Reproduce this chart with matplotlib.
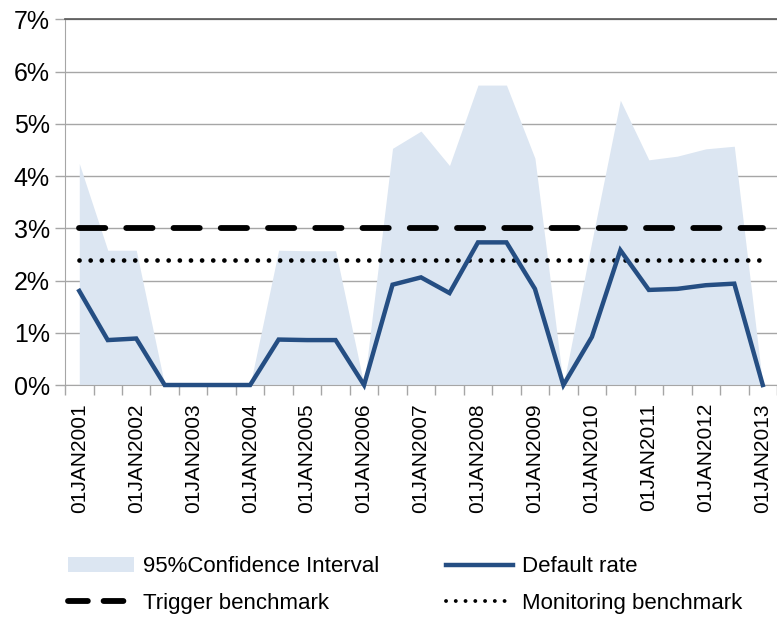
import numpy as np
import matplotlib
matplotlib.use('Agg')
import matplotlib.pyplot as plt
from matplotlib.patches import Patch
from matplotlib.lines import Line2D

plt.rcParams['font.family'] = ['Liberation Sans', 'DejaVu Sans']

# semi-annual observations, 01JAN2001 .. 01JAN2013
years = list(range(2001, 2014))
tick_labels = [f"01JAN{y}" for y in years]

default_rate = [1.80, 0.86, 0.89, 0.0, 0.0, 0.0, 0.0, 0.87, 0.86, 0.86, 0.0,
                1.92, 2.06, 1.76, 2.73, 2.73, 1.84, 0.0, 0.92, 2.58, 1.82,
                1.84, 1.91, 1.94, 0.0]
ci_upper = [4.24, 2.58, 2.58, 0.0, 0.0, 0.0, 0.0, 2.58, 2.57, 2.57, 0.0,
            4.53, 4.86, 4.20, 5.74, 5.74, 4.34, 0.0, 2.75, 5.45, 4.31,
            4.38, 4.52, 4.57, 0.0]
trigger = 3.0
monitoring = 2.4

fill_color = '#dce6f2'
line_color = '#254e83'
grid_color = '#a6a6a6'

def main():
    n = len(default_rate)
    x = np.arange(n)

    fig = plt.figure(figsize=(7.77, 6.21), dpi=100)
    ax = fig.add_axes([0.0837, 0.38, 0.9163, 0.589])

    ax.fill_between(x, 0, ci_upper, color=fill_color, linewidth=0, zorder=2)
    ax.plot(x, [trigger] * n, color='black', linewidth=4.2,
            dashes=(4.5, 3.6), dash_capstyle='round', zorder=3)
    ax.plot(x, [monitoring] * n, color='black', linewidth=3.4,
            linestyle=(0, (0.01, 2.35)), dash_capstyle='round', zorder=3)
    ax.plot(x, default_rate, color=line_color, linewidth=3.2,
            solid_joinstyle='miter', zorder=4, clip_on=False)

    ax.set_xlim(-0.5, n - 0.5)
    ax.set_ylim(0, 7)
    ax.set_yticks(range(0, 8))
    ax.set_yticklabels([f"{v}%" for v in range(0, 8)], fontsize=18)
    ax.yaxis.grid(True, color=grid_color, linewidth=1.0, zorder=0)
    ax.set_axisbelow(True)

    ax.set_xticks(x[::2])
    ax.set_xticklabels(tick_labels, rotation=90, fontsize=15)
    ax.set_xticks(np.arange(-0.5, n, 1.0), minor=True)
    ax.tick_params(axis='x', which='major', length=0, pad=13)
    ax.tick_params(axis='x', which='minor', length=7, color=grid_color, width=1)
    ax.tick_params(axis='y', length=7, color=grid_color, width=1, pad=4)

    for side in ['left', 'bottom']:
        ax.spines[side].set_color(grid_color)
    ax.spines['right'].set_visible(False)
    ax.spines['top'].set_color('#555555')
    ax.spines['top'].set_linewidth(1.2)

    handles = [
        Patch(facecolor=fill_color, edgecolor='none'),
        Line2D([], [], color='black', linewidth=4.2, dashes=(3.4, 2.7),
               dash_capstyle='round'),
        Line2D([], [], color=line_color, linewidth=3.2),
        Line2D([], [], color='black', linewidth=2.8, linestyle=(0, (0.01, 2.5)),
               dash_capstyle='round'),
    ]
    labels = ['95%Confidence Interval', 'Trigger benchmark',
              'Default rate', 'Monitoring benchmark']
    fig.legend(handles, labels, loc='upper left', bbox_to_anchor=(0.087, 0.104),
               ncol=2, frameon=False, fontsize=16, handlelength=3.0,
               handleheight=0.65, handletextpad=0.4, columnspacing=3.0,
               labelspacing=0.7, borderpad=0, borderaxespad=0)

    fig.savefig('out.png', dpi=100)

if __name__ == "__main__":
    main()
